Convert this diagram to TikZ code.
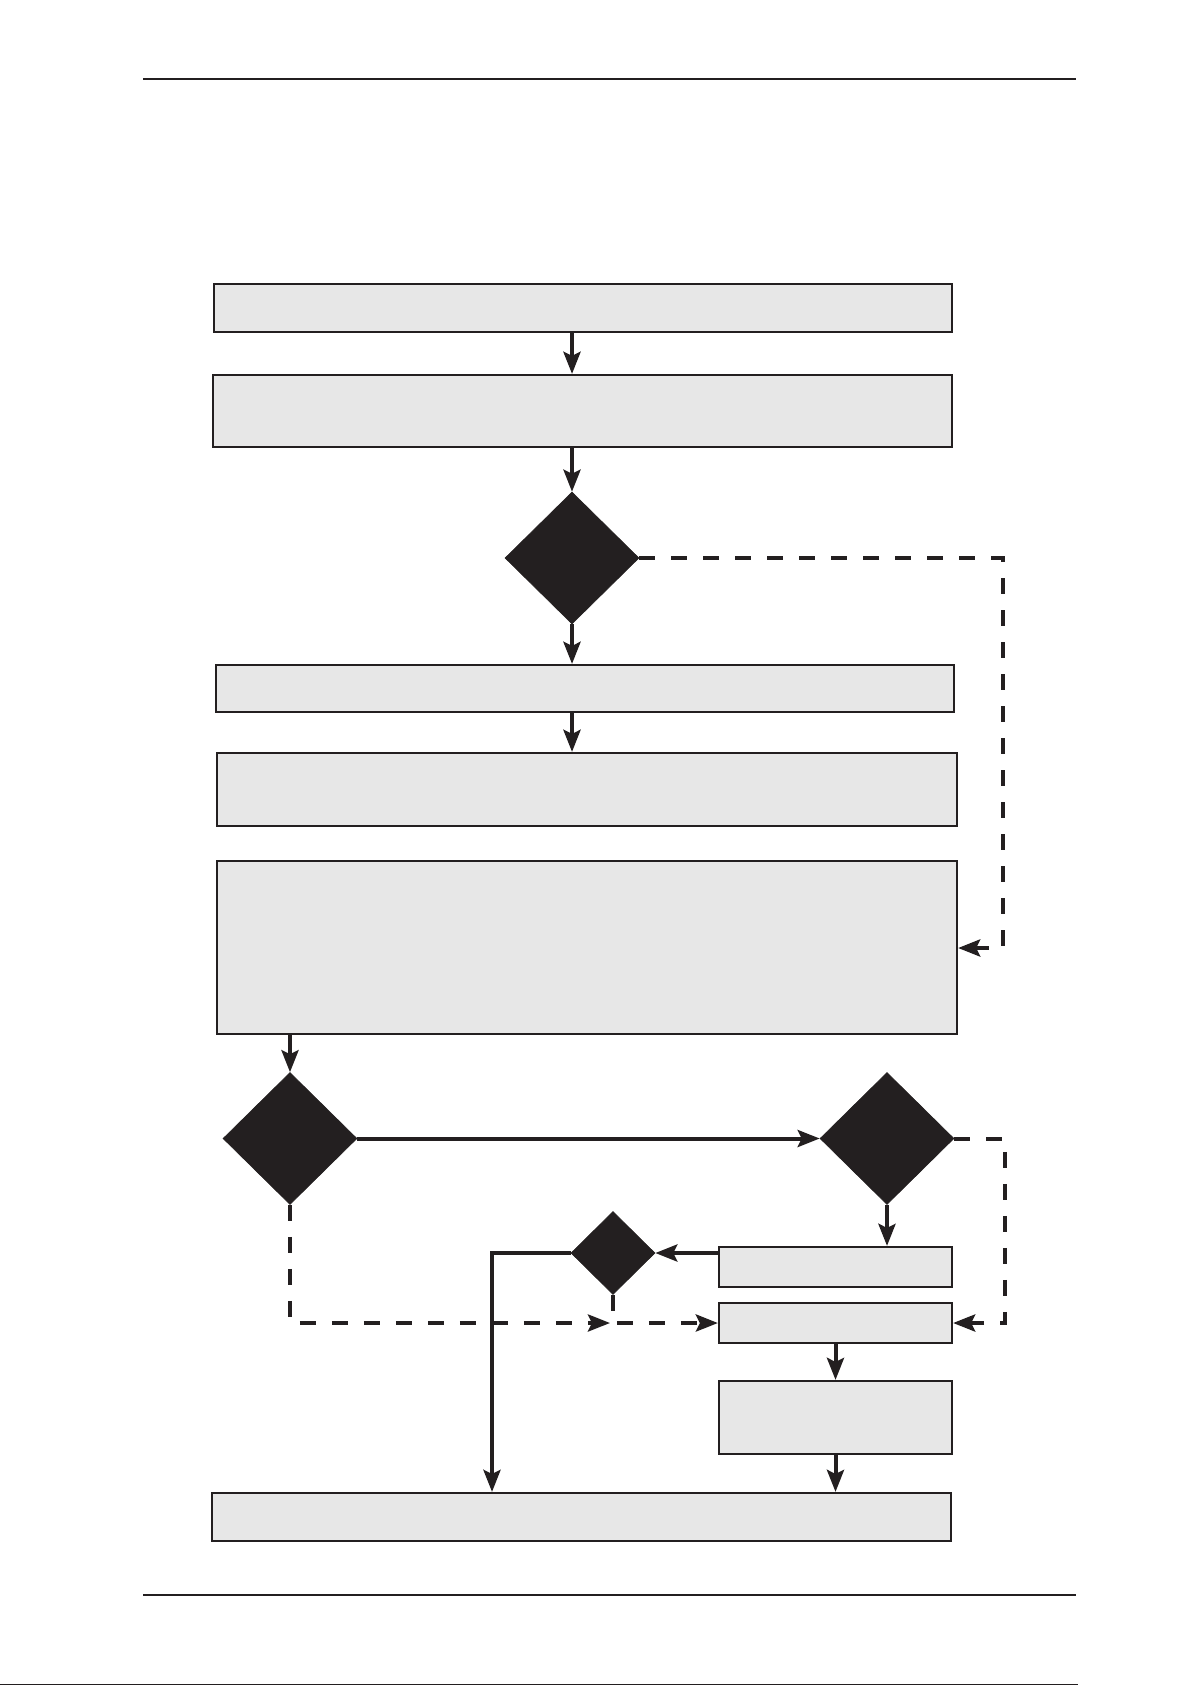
\documentclass[tikz,border=0pt]{standalone}
\usepackage{xcolor}
\usepackage{tikz}
\usetikzlibrary{positioning,arrows.meta,calc,shapes.geometric}
\definecolor{ink}{RGB}{35,31,32}
\definecolor{paper}{RGB}{231,231,231}
\tikzset{
  flow/.style={-{Stealth[length=11pt, width=8.5pt, inset=2pt]}, line width=2pt, color=ink},
  alt/.style={flow, dash pattern=on 8pt off 8pt},
  panel/.style={rectangle, draw=ink, fill=paper, line width=1.1pt, inner sep=0pt},
  gate/.style={diamond, draw=ink, fill=ink, line width=0.3pt, inner sep=0pt},
  rule/.style={line width=1pt, color=ink}
}

\begin{document}
\begin{tikzpicture}[x=0.5pt, y=-0.5pt]
\useasboundingbox (0,0) rectangle (1192,1685);
% page rules
\draw[rule] (143,79.5) -- (1076,79.5);
\draw[rule] (143,1595) -- (1076,1595);
\draw[ink, line width=0.6pt] (0,1684.2) -- (1078,1684.2);
% upper chain
\node[panel, minimum width=369pt, minimum height=24pt] (b1) at (583,308) {};
\node[panel, minimum width=369.5pt, minimum height=36pt] (b2) at (582.5,411) {};
\node[gate, minimum width=67pt, minimum height=66pt] (d1) at (572,558) {};
\node[panel, minimum width=369pt, minimum height=23.5pt] (b3) at (585,688.5) {};
\node[panel, minimum width=370pt, minimum height=36.5pt] (b4) at (587,789.5) {};
\node[panel, minimum width=370pt, minimum height=86.5pt] (b5) at (587,947.5) {};
% lower part
\node[gate, minimum width=67pt, minimum height=66pt] (d2) at (290,1138.5) {};
\node[gate, minimum width=67pt, minimum height=66pt] (d3) at (887,1138.5) {};
\node[gate, minimum width=42pt, minimum height=41.5pt] (d4) at (613,1253) {};
\node[panel, minimum width=116.5pt, minimum height=20pt] (b6) at (835.5,1267) {};
\node[panel, minimum width=116.5pt, minimum height=20pt] (b7) at (835.5,1323) {};
\node[panel, minimum width=116.5pt, minimum height=36.5pt] (b9) at (835.5,1417.5) {};
\node[panel, minimum width=369.5pt, minimum height=24pt] (b10) at (581.5,1517) {};
\coordinate (rt1) at (1003,948);
\coordinate (rt2) at (1005,1323);
\coordinate (lft) at (492,1253);
\coordinate (jn) at (613,1323);
% connectors
\draw[flow] (b1.south -| d1.north) -- (b2.north -| d1.north);
\draw[flow] (b2.south -| d1.north) -- (d1.north);
\draw[flow] (d1.south) -- (b3.north -| d1.south);
\draw[flow] (b3.south -| d1.south) -- (b4.north -| d1.south);
\draw[alt] (d1.east) -| (rt1) -- (b5.east |- rt1);
\draw[flow] (b5.south -| d2.north) -- (d2.north);
\draw[flow] (d2.east) -- (d3.west);
\draw[flow] (d3.south) -- (b6.north -| d3.south);
\draw[alt] (d3.east) -| (rt2) -- (b7.east);
\draw[flow] (b6.west |- d4.east) -- (d4.east);
\draw[flow] (d4.west) -- (lft) -- (lft |- b10.north);
\draw[alt] (d2.south) |- ($(jn)+(-3,0)$);
\draw[alt] (d4.south) -- (jn) -- (b7.west);
\draw[flow] (b7.south) -- (b9.north);
\draw[flow] (b9.south) -- (b10.north -| b9.south);
\end{tikzpicture}
\end{document}
